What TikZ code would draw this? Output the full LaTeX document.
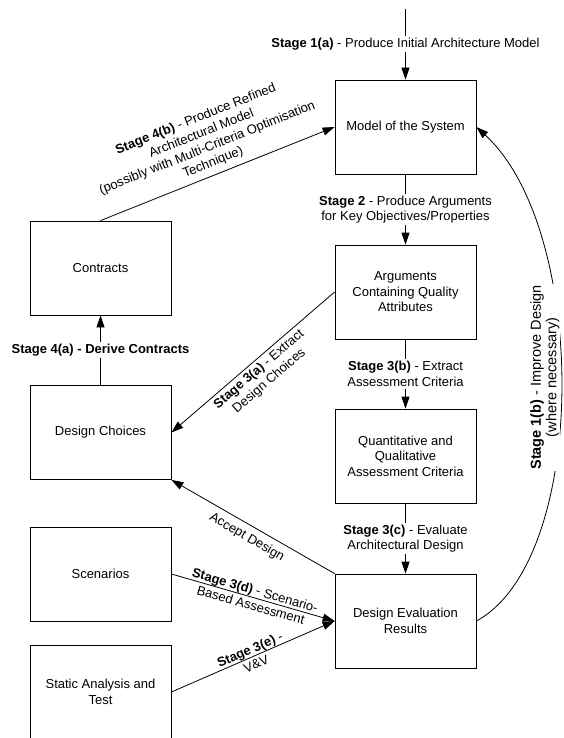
\documentclass[tikz,border=0pt]{standalone}
\usepackage{fontspec}
\setmainfont{Liberation Sans}
\usetikzlibrary{arrows.meta}
\begin{document}
\begin{tikzpicture}[x=1pt,y=-1pt,
  font=\fontsize{13}{15.5}\selectfont,
  box/.style={draw, line width=0.8pt, minimum width=141pt, minimum height=94pt, align=center, inner sep=2pt},
  arr/.style={draw, line width=0.8pt, -{Triangle[length=12pt,width=8pt]}},
  lbl/.style={fill=white, align=center, inner sep=2pt},
  slbl/.style={align=center, sloped, inner sep=2pt}]
\useasboundingbox (0,0) rectangle (563,738);
\clip (0,0) rectangle (563,738);

% boxes
\node[box] (model) at (405.5,127) {Model of the System};
\node[box] (args) at (405.5,292) {Arguments\\Containing Quality\\Attributes};
\node[box] (quant) at (405.5,456) {Quantitative and\\Qualitative\\Assessment Criteria};
\node[box] (der) at (405.5,621) {Design Evaluation\\Results};
\node[box] (contracts) at (100.5,268) {Contracts};
\node[box] (dc) at (100.5,432.5) {Design Choices};
\node[box] (scen) at (100.5,574) {Scenarios};
\node[box] (static) at (100.5,692) {Static Analysis and\\Test};

% vertical flow
\coordinate (in) at (405.5,9);
\draw[arr] (in) -- node[lbl]{\textbf{Stage 1(a)} - Produce Initial Architecture Model} (model);
\draw[arr] (model) -- node[lbl]{\textbf{Stage 2} - Produce Arguments\\for Key Objectives/Properties} (args);
\draw[arr] (args) -- node[lbl]{\textbf{Stage 3(b)} - Extract\\Assessment Criteria} (quant);
\draw[arr] (quant) -- node[lbl]{\textbf{Stage 3(c)} - Evaluate\\Architectural Design} (der);
\draw[arr] (dc) -- node[lbl]{\textbf{Stage 4(a) - Derive Contracts}} (contracts);

% sloped connectors
\draw[arr] (contracts.north) -- node[slbl, above, inner sep=5.5pt]{\textbf{Stage 4(b)} - Produce Refined\\Architectural Model\\(possibly with Multi-Criteria Optimisation\\Technique)} (model.west);
\draw[arr] (args.west) -- node[slbl, below, inner sep=3pt]{\textbf{Stage 3(a)} - Extract\\Design Choices} (dc.east);
\draw[arr] (der.north west) -- node[slbl, below, inner sep=6pt]{Accept Design} (dc.south east);
\draw[arr] (scen.east) -- node[slbl]{\textbf{Stage 3(d)} - Scenario-\\Based Assessment} (der.west);
\draw[arr] (static.east) -- node[slbl]{\textbf{Stage 3(e)} -\\V\&V} (der.west);

% feedback curve
\draw[arr] (der.east) .. controls (589,560) and (589,230) .. node[pos=0.52, rotate=90, anchor=south, fill=white, align=center, inner sep=1pt, font=\fontsize{14.5}{15.5}\selectfont]{\textbf{Stage 1(b)} - Improve Design\\(where necessary)} (model.east);
\end{tikzpicture}
\end{document}
